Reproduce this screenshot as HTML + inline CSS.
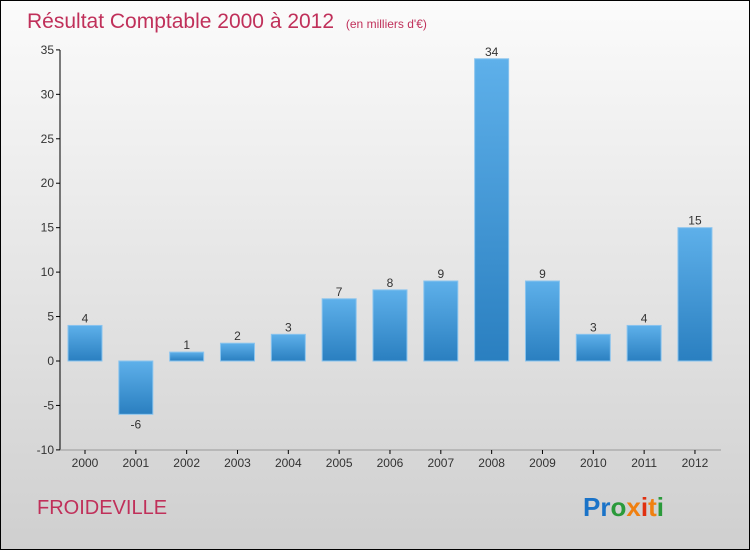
<!DOCTYPE html>
<html><head><meta charset="utf-8"><style>
body{margin:0;}
#wrap{width:748px;height:548px;border:1px solid #000;background:linear-gradient(#fbfbfb,#cfcfcf);position:relative;overflow:hidden;font-family:"Liberation Sans",sans-serif;}
</style></head><body>
<div id="wrap">
<svg width="748" height="548" id="svg">
<defs><linearGradient id="bg" x1="0" y1="0" x2="0" y2="1"><stop offset="0" stop-color="#5eb0ea"/><stop offset="1" stop-color="#2a7fc0"/></linearGradient></defs>
<text x="26" y="27" font-size="21" fill="#c0305a">Résultat Comptable 2000 à 2012 <tspan font-size="12" dx="6">(en milliers d'€)</tspan></text>
<text x="36" y="513" font-size="20" fill="#c0305a">FROIDEVILLE</text>
<text x="582" y="515" font-size="26" font-weight="bold"><tspan fill="#1a73c8">Pr</tspan><tspan fill="#2a9a3a">o</tspan><tspan fill="#f08010">x</tspan><tspan fill="#e03010">i</tspan><tspan fill="#f08010">t</tspan><tspan fill="#2a9a3a">i</tspan></text>
<g id="g"></g>
</svg>
</div>
<script>
const categories=["2000","2001","2002","2003","2004","2005","2006","2007","2008","2009","2010","2011","2012"];
const values=[4,-6,1,2,3,7,8,9,34,9,3,4,15];
const yTicks=[-10,-5,0,5,10,15,20,25,30,35];
const NS="http://www.w3.org/2000/svg";
const g=document.getElementById('g');
const y=v=>361-v*(400/45)-1;
const x=i=>84+i*50.83;
function el(t,a){const e=document.createElementNS(NS,t);for(const k in a)e.setAttribute(k,a[k]);g.appendChild(e);return e;}
const ax=el('line',{x1:59,y1:49,x2:59,y2:449,stroke:'#000'});


const bx=el('line',{x1:59,y1:449,x2:720,y2:449,stroke:'#999'});


yTicks.forEach(v=>{
 const tk=el('line',{x1:55,x2:59,y1:y(v),y2:y(v),stroke:'#000'});
 
 
 const t=el('text',{x:53,y:y(v)+4,'font-size':12,fill:'#333','text-anchor':'end'});t.textContent=v;
 
 
});
categories.forEach((c,i)=>{
 const v=values[i],top=Math.min(y(v),y(0)),h=Math.abs(y(v)-y(0));
 const r=el('rect',{x:x(i)-17,y:top,width:34,height:h,fill:'url(#bg)',stroke:'#8ac4ee','stroke-width':1});
 
 
 const l=el('text',{x:x(i),y:v>=0?y(v)-3:y(v)+14,'font-size':12,fill:'#333','text-anchor':'middle'});l.textContent=v;
 
 
 const tk=el('line',{x1:x(i),x2:x(i),y1:449,y2:453,stroke:'#000'});
 
 
 const t=el('text',{x:x(i),y:466,'font-size':12,fill:'#333','text-anchor':'middle'});t.textContent=c;
 
 
});
</script>
</body></html>
